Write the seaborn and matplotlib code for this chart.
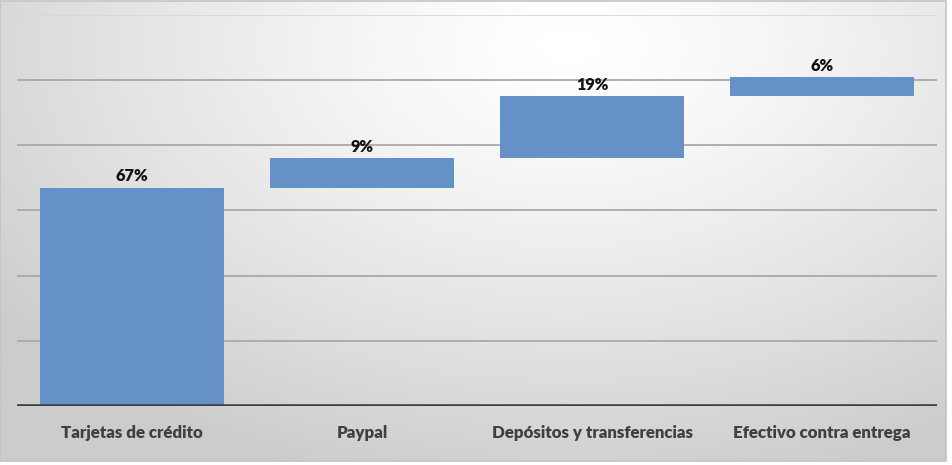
import numpy as np
import pandas as pd
import matplotlib
matplotlib.use("Agg")
import matplotlib.pyplot as plt
import seaborn as sns
from matplotlib.patches import Rectangle

# Payment methods and their share (percent) in a waterfall layout
categories = ["Tarjetas de crédito", "Paypal", "Depósitos y transferencias", "Efectivo contra entrega"]
shares = [67, 9, 19, 6]
value_labels = ["67%", "9%", "19%", "6%"]
grid_ticks = [0, 20, 40, 60, 80, 100, 120]

starts = np.concatenate([[0], np.cumsum(shares)[:-1]])
df = pd.DataFrame({"metodo": categories, "share": shares, "start": starts})

sns.set_theme(style="white")
plt.rcParams["font.family"] = ["Lato", "DejaVu Sans"]

W, H = 953, 465
fig = plt.figure(figsize=(W / 100, H / 100), dpi=100)
fig.patch.set_facecolor("white")

# radial grey-to-white background of the chart box
bg = fig.add_axes([0, 4 / H, 946 / W, 1 - 5 / H], zorder=0)
yy, xx = np.mgrid[0:200, 0:400]
cx, cy = 240, 20
r = np.sqrt(((xx - cx) / 400) ** 2 + ((yy - cy) / 260) ** 2)
r = np.clip(r / 0.75, 0, 1)
shade = 1.0 - 0.20 * r ** 1.3
bg.imshow(shade, cmap="gray", vmin=0, vmax=1, aspect="auto", interpolation="bicubic")
bg.set_axis_off()
fig.add_artist(Rectangle((0, 4 / H), 946 / W, 1 - 5 / H, transform=fig.transFigure,
                         fill=False, edgecolor="#c4c4c4", linewidth=1.2, zorder=1))

ax = fig.add_axes([17 / W, (H - 406) / H, 920 / W, 391 / H], zorder=2)
ax.patch.set_alpha(0)

sns.barplot(data=df, x="metodo", y="share", bottom=df["start"].values,
            color="#6591c6", saturation=1, width=0.8, ax=ax, zorder=3,
            edgecolor="none", linewidth=0)

for i, (s, v, lab) in enumerate(zip(starts, shares, value_labels)):
    ax.text(i, s + v + 1.0, lab, ha="center", va="bottom", fontsize=11.8,
            fontweight="heavy", color="#111111", zorder=4)

ax.set_ylim(0, 120)
ax.set_xlim(-0.5, 3.5)
for t in grid_ticks[1:]:
    ax.axhline(t, color="#a9a9a9" if t < 120 else "#d8d8d8", linewidth=1.3, zorder=1)
ax.axhline(0, color="#404040", linewidth=2.6, zorder=5)

ax.set_yticks([])
ax.set_xlabel("")
ax.set_ylabel("")
ax.tick_params(axis="x", length=0, pad=14, labelsize=12.2, labelcolor="#404040")
for lbl in ax.get_xticklabels():
    lbl.set_fontweight("heavy")
for sp in ax.spines.values():
    sp.set_visible(False)

fig.savefig("out.png", dpi=100)
